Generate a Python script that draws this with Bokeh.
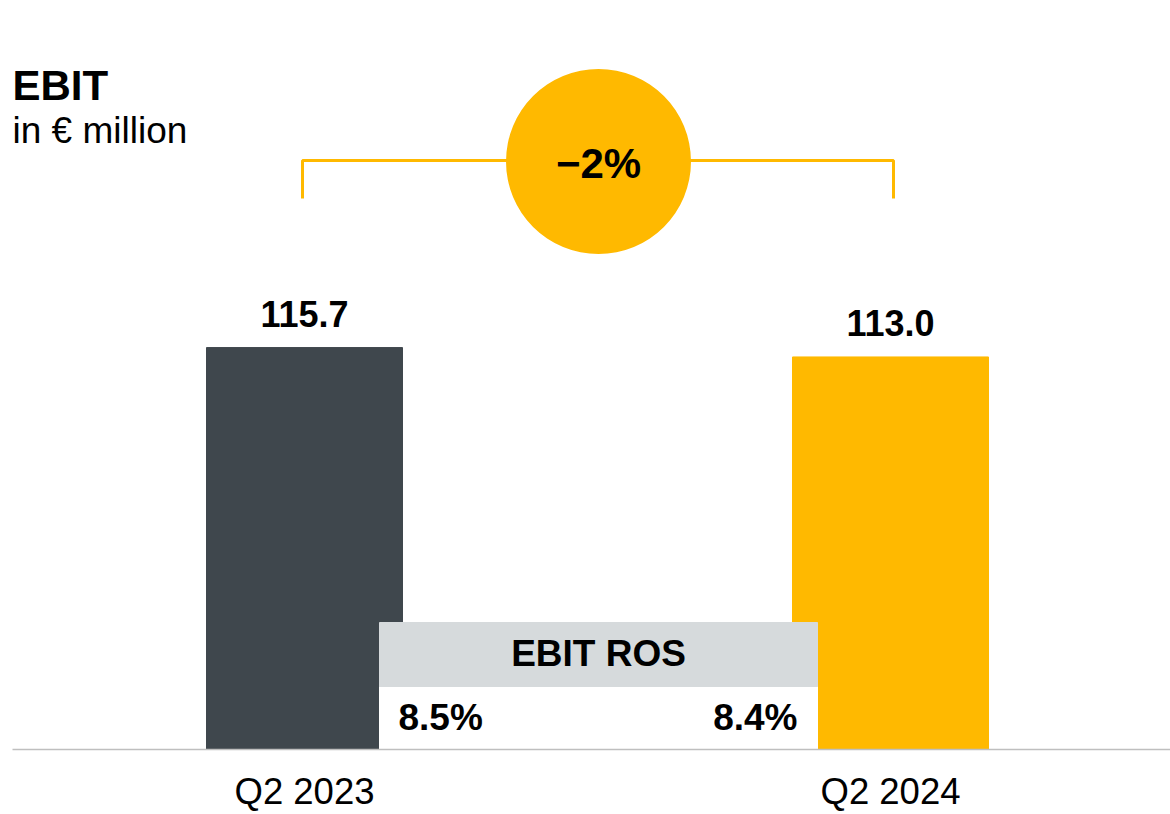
from bokeh.plotting import figure
from bokeh.models import Range1d, Label, ColumnDataSource
from bokeh.core.properties import value
from bokeh.embed import file_html
from bokeh.resources import INLINE

# ---- data ----
categories = ["Q2 2023", "Q2 2024"]
ebit = [115.7, 113.0]
ebit_labels = ["115.7", "113.0"]
ros_labels = ["8.5%", "8.4%"]
change_label = "\u22122%"
title = "EBIT"
subtitle = "in \u20ac million"
ros_title = "EBIT ROS"

# ---- style ----
DARK = "#3F474D"
YELLOW = "#FFB900"
GREY_BOX = "#D6DADC"
BASE = "#BFBFBF"
FONT = value("Liberation Sans")

W, H = 1170, 814
K = 3.474           # px per € million
BASE_Y = 749        # canvas y of zero line
PX = 586.0          # px per category step
X0 = 304            # canvas x of first category
TX = 15             # svg text baseline correction (px)


def yv_(cy):
    """canvas y -> data y"""
    return (BASE_Y - cy) / K


def xv_(cx):
    return (cx - X0) / PX


p = figure(width=W, height=H, output_backend="svg", toolbar_location=None,
           x_range=Range1d(xv_(0), xv_(W)),
           y_range=Range1d(yv_(H), yv_(0)),
           min_border=0, outline_line_color=None)
p.axis.visible = False
p.grid.visible = False
p.background_fill_color = "white"
p.border_fill_color = "white"

xs = list(range(len(categories)))
src = ColumnDataSource(dict(x=xs, top=ebit, lab=ebit_labels, cat=categories,
                            color=[DARK, YELLOW]))

# bars
p.vbar(x="x", top="top", bottom=0, width=196 / PX, color="color", source=src)

# value labels
p.text(x="x", y="top", text="lab", source=src, text_align="center",
       text_baseline="alphabetic", y_offset=-19 - TX, text_font=FONT,
       text_font_size="36px", text_font_style="bold", text_color="black")

# category labels
p.text(x="x", y=0, text="cat", source=src, text_align="center",
       text_baseline="alphabetic", y_offset=57 - TX, text_font=FONT,
       text_font_size="36.5px", text_color="black")

# ROS box (covers the bars' inner edges)
bl, br = xv_(379), xv_(817)
p.quad(left=[bl], right=[br], bottom=[0], top=[yv_(686)], color="white")
p.quad(left=[bl], right=[br], bottom=[yv_(686)], top=[yv_(622)], color=GREY_BOX)
p.text(x=[(bl + br) / 2], y=[yv_(668 - TX)], text=[ros_title],
       text_align="center", text_baseline="alphabetic", text_font=FONT,
       text_font_size="37px", text_font_style="bold", text_color="black")
ros_y = yv_(732 - TX)
p.text(x=[xv_(398)], y=[ros_y], text=[ros_labels[0]], text_align="left",
       text_baseline="alphabetic", text_font=FONT, text_font_size="37px",
       text_font_style="bold", text_color="black")
p.text(x=[xv_(797)], y=[ros_y], text=[ros_labels[1]], text_align="right",
       text_baseline="alphabetic", text_font=FONT, text_font_size="37px",
       text_font_style="bold", text_color="black")

# baseline
p.segment(x0=[xv_(12)], x1=[xv_(W)], y0=[0], y1=[0],
          line_color=BASE, line_width=1.5)

# bracket
yb, yvv = yv_(160), yv_(198)
xl, xr = xv_(302), xv_(893)
p.line(x=[xl, xl, xr, xr], y=[yvv, yb, yb, yvv], line_color=YELLOW, line_width=3)

# change bubble
cx = xv_(598)
p.scatter(x=[cx], y=[yv_(161)], marker="circle", size=185, fill_color=YELLOW,
          line_color=None)
p.text(x=[cx], y=[yv_(178 - TX)], text=[change_label], text_align="center",
       text_baseline="alphabetic", text_font=FONT, text_font_size="42px",
       text_font_style="bold", text_color="black")

# title
p.add_layout(Label(x=12, y=H - (100 - TX), x_units="screen", y_units="screen",
                   text=title, text_font="Liberation Sans", text_font_size="42px",
                   text_font_style="bold", text_color="black",
                   text_baseline="alphabetic"))
p.add_layout(Label(x=12, y=H - (145 - TX), x_units="screen", y_units="screen",
                   text=subtitle, text_font="Liberation Sans", text_font_size="37px",
                   text_color="black", text_baseline="alphabetic"))

open("out.html", "w").write(file_html(p, INLINE))
